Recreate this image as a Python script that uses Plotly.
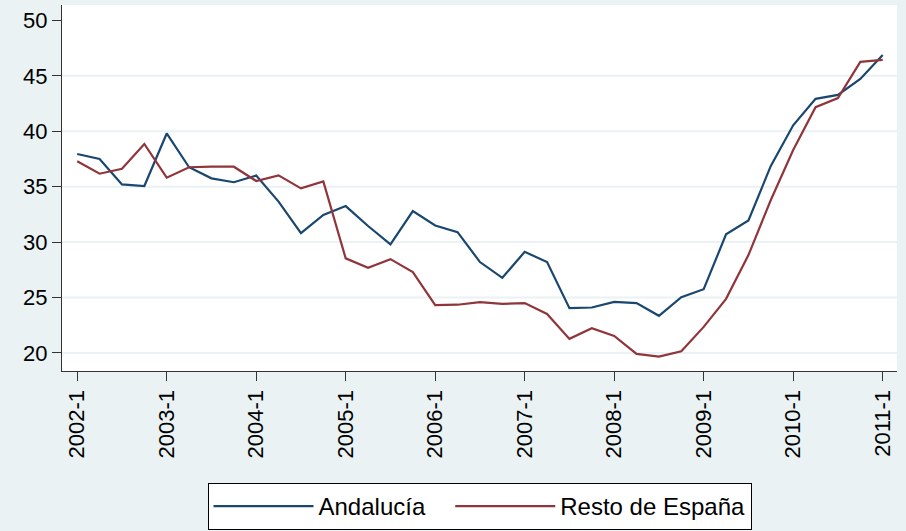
import plotly.graph_objects as go

quarters = [f"{y}-{q}" for y in range(2002, 2011) for q in range(1, 5)] + ["2011-1"]
tick_labels = [f"{y}-1" for y in range(2002, 2012)]

andalucia = [37.95, 37.5, 35.2, 35.06, 39.8, 36.75, 35.75, 35.4, 36.0, 33.65,
             30.8, 32.45, 33.25, 31.45, 29.8, 32.8, 31.5, 30.9, 28.2, 26.78,
             29.12, 28.2, 24.04, 24.1, 24.6, 24.5, 23.35, 25.03, 25.75, 30.7,
             31.95, 36.87, 40.54, 42.92, 43.28, 44.72, 46.89]
resto = [37.29, 36.17, 36.62, 38.85, 35.81, 36.75, 36.8, 36.8, 35.51, 36.02,
         34.85, 35.48, 28.53, 27.68, 28.46, 27.29, 24.31, 24.35, 24.58, 24.43,
         24.5, 23.52, 21.27, 22.23, 21.54, 19.91, 19.67, 20.15, 22.35, 24.88,
         28.83, 33.8, 38.31, 42.17, 43.0, 46.26, 46.44]
y_ticks = [20, 25, 30, 35, 40, 45, 50]
grid_values = [20, 25, 30, 35, 40, 45]
title_text = "Andalucía y Resto de España"
series_names = ["Andalucía", "Resto de España"]

BG = "#eaf2f3"
FONT = "Liberation Sans, Arial, Helvetica, sans-serif"

xi = list(range(len(quarters)))
tick_pos = [quarters.index(t) for t in tick_labels]

fig = go.Figure()
fig.add_trace(go.Scatter(x=xi, y=andalucia, mode="lines",
                         name=series_names[0] + "\u00a0" * 3,
                         line=dict(color="#1a476f", width=2.2)))
fig.add_trace(go.Scatter(x=xi, y=resto, mode="lines", name=series_names[1],
                         line=dict(color="#90353b", width=2.2)))

for g in grid_values:
    fig.add_shape(type="line", xref="paper", x0=0, x1=1, yref="y", y0=g, y1=g,
                  line=dict(color=BG, width=2), layer="below")

fig.add_annotation(text=title_text, xref="paper", yref="paper", x=0.5, y=1.008,
                   xanchor="center", yanchor="bottom", showarrow=False,
                   font=dict(size=26, color="black", family=FONT))

fig.update_layout(
    width=906, height=531,
    margin=dict(l=62, r=9, t=5, b=160, autoexpand=False),
    paper_bgcolor=BG, plot_bgcolor="white",
    font=dict(family=FONT, size=22, color="black"),
    showlegend=True,
    legend=dict(orientation="h", x=0.5, xanchor="center", y=-0.306, yanchor="top",
                bgcolor="white", bordercolor="black", borderwidth=1,
                font=dict(size=24), itemwidth=100),
    xaxis=dict(range=[-0.68, 36.64], tickmode="array", tickvals=tick_pos, ticktext=tick_labels,
               tickangle=-90, ticks="outside", ticklen=9, tickwidth=1.2, tickcolor="#333",
               showline=True, linecolor="#333", linewidth=1.2, showgrid=False, zeroline=False,
               tickfont=dict(size=22), automargin=False),
    yaxis=dict(range=[18.37, 51.39], tickmode="array", tickvals=y_ticks,
               ticks="outside", ticklen=9, tickwidth=1.2, tickcolor="#333",
               showline=True, linecolor="#333", linewidth=1.2, showgrid=False, zeroline=False,
               tickfont=dict(size=22), automargin=False),
)

fig.write_html("out.html", config={"displayModeBar": False},
               post_script="document.body.style.margin='0';document.body.style.overflow='hidden';")
